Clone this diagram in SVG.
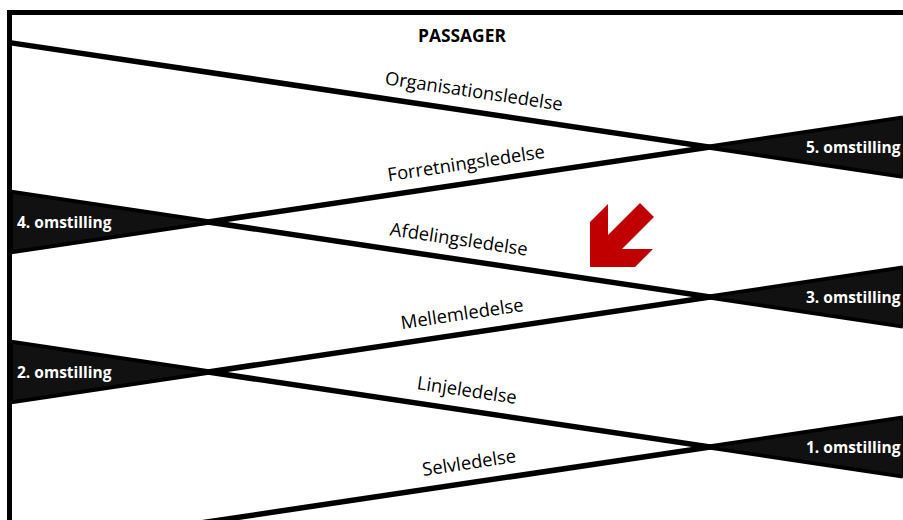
<svg xmlns="http://www.w3.org/2000/svg" width="903" height="520" viewBox="0 0 903 520">
  <style>
    .frame { stroke: #000; stroke-width: 5; fill: none; }
    .zig { stroke: #000; stroke-width: 5.5; fill: none; stroke-linecap: butt; }
    .flag { fill: #111; stroke: #000; stroke-width: 2; stroke-linejoin: miter; }
    .flag-label { font-family: "Open Sans", "Liberation Sans", sans-serif; font-weight: bold; font-size: 15.5px; fill: #fff; }
    .line-label { font-family: "Open Sans", "Liberation Sans", sans-serif; font-size: 18.4px; fill: #000; text-anchor: middle; }
    .title { font-family: "Open Sans", "Liberation Sans", sans-serif; font-weight: bold; font-size: 17.4px; fill: #000; text-anchor: middle; }
  </style>
  <rect width="903" height="520" fill="#fff"/>

  <!-- outer frame: top and left edges -->
  <g id="frame">
    <path class="frame" d="M7,12.5 H903 M9.5,10 V520"/>
  </g>

  <text id="title" class="title" x="462" y="42">PASSAGER</text>

  <!-- management levels: zig-zag lines crossing between transitions -->
  <g id="connectors">
    <line class="zig" x1="9.5" y1="42.6" x2="903" y2="176"/>
    <line class="zig" x1="9.5" y1="251.7" x2="903" y2="118.2"/>
    <line class="zig" x1="9.5" y1="192.3" x2="903" y2="325.8"/>
    <line class="zig" x1="9.5" y1="401.7" x2="903" y2="268.2"/>
    <line class="zig" x1="9.5" y1="342.3" x2="903" y2="475.8"/>
    <line class="zig" x1="180" y1="526" x2="903" y2="418.2"/>

    <text class="line-label" transform="translate(473,97.5) rotate(8.5)">Organisationsledelse</text>
    <text class="line-label" transform="translate(467,169.5) rotate(-8.5)">Forretningsledelse</text>
    <text class="line-label" transform="translate(458,245.5) rotate(8.5)">Afdelingsledelse</text>
    <text class="line-label" transform="translate(463,320) rotate(-8.5)">Mellemledelse</text>
    <text class="line-label" transform="translate(466,396.5) rotate(8.5)">Linjeledelse</text>
    <text class="line-label" transform="translate(470,469) rotate(-8.5)">Selvledelse</text>
  </g>

  <!-- transitions -->
  <g id="omstilling-5">
    <polygon class="flag" points="710,147 903,118.2 903,176"/>
    <text class="flag-label" x="806" y="153">5. omstilling</text>
  </g>
  <g id="omstilling-4">
    <polygon class="flag" points="12,192.7 208,222 12,251.3"/>
    <text class="flag-label" x="17" y="228">4. omstilling</text>
  </g>
  <g id="omstilling-3">
    <polygon class="flag" points="710,297 903,268.2 903,325.8"/>
    <text class="flag-label" x="806" y="303">3. omstilling</text>
  </g>
  <g id="omstilling-2">
    <polygon class="flag" points="12,342.7 208,372 12,401.3"/>
    <text class="flag-label" x="17" y="378">2. omstilling</text>
  </g>
  <g id="omstilling-1">
    <polygon class="flag" points="710,447 903,418.2 903,475.8"/>
    <text class="flag-label" x="806" y="453">1. omstilling</text>
  </g>

  <!-- direction arrow -->
  <g id="arrow">
    <polygon fill="#c00000" points="590,267 590,222 608,204 608,235 640,203 654,217 622,249 653,249 635,267"/>
  </g>
</svg>
